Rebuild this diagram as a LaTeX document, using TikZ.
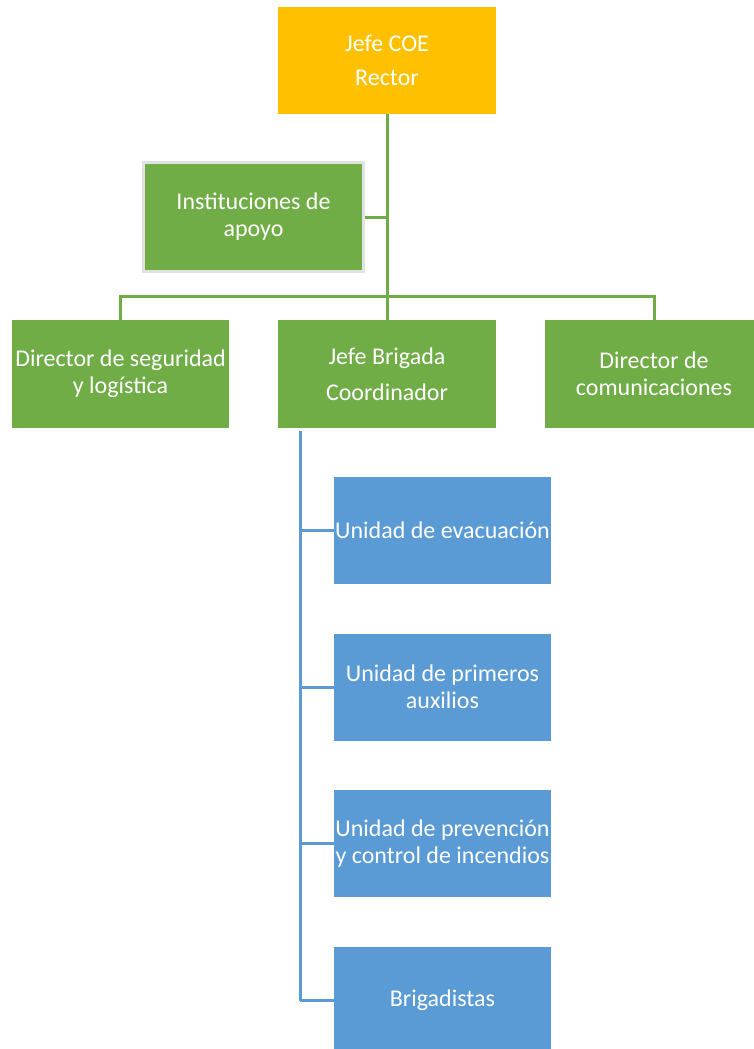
\documentclass[tikz,border=0pt]{standalone}
\usepackage{fontspec}
\setmainfont{Carlito}
\usetikzlibrary{positioning}
\definecolor{coeyellow}{HTML}{FFC000}
\definecolor{coegreen}{HTML}{70AD47}
\definecolor{coeblue}{HTML}{5B9BD5}
\definecolor{coeborder}{HTML}{E2E2E2}
\begin{document}
\begin{tikzpicture}[x=1pt,y=-1pt]
\tikzstyle{every node}+=[inner sep=0pt, text=white, align=center, font=\fontsize{24}{27}\selectfont]
\tikzstyle{bossbox}=[fill=coeyellow, minimum width=218pt, minimum height=107pt]
\tikzstyle{greenbox}=[fill=coegreen, minimum width=217pt, minimum height=108pt]
\tikzstyle{bluebox}=[fill=coeblue, minimum width=217pt, minimum height=107pt]
\tikzstyle{greenline}=[coegreen, line width=3pt]
\tikzstyle{blueline}=[coeblue, line width=3pt]
\useasboundingbox (0,0) rectangle (754,1049);
\node[bossbox] (coe) at (387,60.5) {Jefe COE\\[7pt]Rector};
\node[greenbox, draw=coeborder, line width=3pt, minimum width=220pt, minimum height=109pt] (inst) at (253.5,217) {Instituciones de\\apoyo};
\node[greenbox] (dsl) at (120.5,374) {Director de seguridad\\y logística};
\node[greenbox, minimum width=218pt] (brig) at (387,374) {Jefe Brigada\\[9pt]Coordinador};
\node[greenbox, minimum width=218pt] (dcom) at (654,374) {Director de\\comunicaciones};
\node[bluebox] (evac) at (442.5,530.5) {Unidad de evacuación};
\node[bluebox] (aux) at (442.5,687) {Unidad de primeros\\auxilios};
\node[bluebox] (inc) at (442.5,843.5) {Unidad de prevención\\y control de incendios};
\node[bluebox] (brgd) at (442.5,1000.5) {Brigadistas};
\coordinate (bar) at (387,296);
\coordinate (spine) at (300,431);
\draw[greenline] (coe.south) -- (brig.north);
\draw[greenline] (inst.east) -- (inst.east -| coe.south);
\draw[greenline] (dsl.north) |- (bar) -| (dcom.north);
\draw[blueline] (spine) -- (spine |- brgd.west);
\foreach \u in {evac,aux,inc,brgd}
  \draw[blueline] (spine |- \u.west) -- (\u.west);
\end{tikzpicture}
\end{document}
